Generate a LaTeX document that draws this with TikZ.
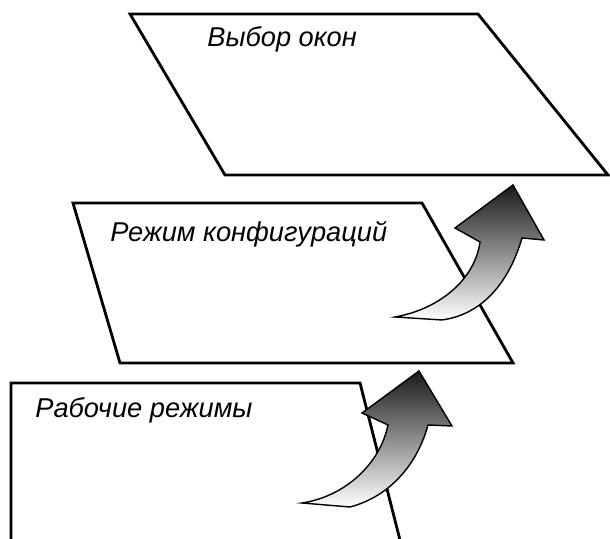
\documentclass[tikz,border=0pt]{standalone}
\usepackage{fontspec}
\setmainfont{Liberation Sans}
\tikzset{
  layer/.style = {line width=1.6pt, fill=white, line join=miter},
  liftarrow/.style = {line width=0.8pt, top color=black!90, bottom color=white, line join=miter},
  layertext/.style = {anchor=base west, inner sep=0pt, font=\itshape\fontsize{15.5}{18}\selectfont}
}
\begin{document}
\begin{tikzpicture}
  \useasboundingbox (0, 0) rectangle (12.2, 10.78);

      % layers
      \draw[layer] (2.6, 10.5) -- (9.56, 10.5) -- (12.16, 7.28) -- (4.5, 7.28) -- cycle;
      \draw[layer] (1.46, 6.72) -- (8.44, 6.72) -- (10.26, 3.52) -- (2.4, 3.52) -- cycle;
      \draw[layer] (0.22, -0.1) -- (0.22, 3.12) -- (7.2, 3.12) -- (8.02, -0.1);

      \node[layertext] (okna) at (4.14, 9.84) {Выбор окон};
      \node[layertext] (konf) at (2.2, 5.94) {Режим конфигураций};
      \node[layertext] (rab) at (0.7, 2.42) {Рабочие режимы};

      % arrows
      \draw[liftarrow] (7.9, 4.44) .. controls (8.8, 4.6) and (9.5, 5.2) .. (9.6, 5.94)
        -- (9.1, 6.22) -- (10.26, 7.08) -- (10.88, 5.98) -- (10.44, 6.02)
        .. controls (10.2, 5.2) and (9.7, 4.5) .. (8.84, 4.38) -- cycle;
      \draw[liftarrow] (6.04, 0.72) .. controls (6.9, 0.85) and (7.6, 1.5) .. (7.76, 2.28)
        -- (7.24, 2.52) -- (8.38, 3.36) -- (9.04, 2.26) -- (8.56, 2.28)
        .. controls (8.35, 1.5) and (7.8, 0.85) .. (7.0, 0.64) -- cycle;

    \end{tikzpicture}
\end{document}
